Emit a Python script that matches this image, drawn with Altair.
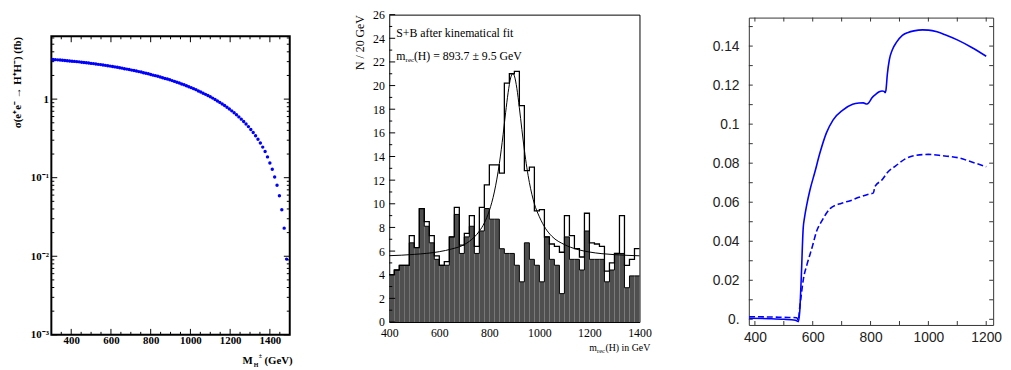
import altair as alt
import pandas as pd

SERIF = "Liberation Serif"
SANS = "Liberation Sans"
BLUE = "#0000ff"

# ---------------- panel 1 : cross section (log) ----------------
mh = [308, 320, 332, 344, 356, 368, 380, 392, 404, 416,
      428, 440, 452, 464, 476, 488, 500, 512, 524, 536,
      548, 560, 572, 584, 596, 608, 620, 632, 644, 656,
      668, 680, 692, 704, 716, 728, 740, 752, 764, 776,
      788, 800, 812, 824, 836, 848, 860, 872, 884, 896,
      908, 920, 932, 944, 956, 968, 980, 992, 1004, 1016,
      1028, 1040, 1052, 1064, 1076, 1088, 1100, 1112, 1124, 1136,
      1148, 1160, 1172, 1184, 1196, 1208, 1220, 1232, 1244, 1256,
      1268, 1280, 1292, 1304, 1316, 1328, 1340, 1352, 1364, 1376,
      1388, 1400, 1412, 1424, 1436, 1448, 1460, 1472, 1484]
xsec = [3.19, 3.18, 3.16, 3.14, 3.12, 3.10, 3.08, 3.06, 3.04, 3.02,
        3.00, 2.98, 2.95, 2.93, 2.90, 2.88, 2.85, 2.83, 2.80, 2.77,
        2.75, 2.72, 2.69, 2.66, 2.63, 2.60, 2.57, 2.54, 2.51, 2.48,
        2.44, 2.41, 2.38, 2.34, 2.31, 2.28, 2.24, 2.21, 2.17, 2.13,
        2.10, 2.06, 2.02, 1.99, 1.95, 1.91, 1.87, 1.83, 1.80, 1.76,
        1.72, 1.68, 1.64, 1.60, 1.56, 1.52, 1.48, 1.44, 1.40, 1.36,
        1.32, 1.27, 1.23, 1.19, 1.15, 1.11, 1.07, 1.03, 0.989, 0.948,
        0.908, 0.868, 0.828, 0.788, 0.749, 0.709, 0.671, 0.632, 0.594, 0.556,
        0.519, 0.483, 0.447, 0.411, 0.376, 0.342, 0.309, 0.277, 0.245, 0.215,
        0.184, 0.154, 0.128, 0.102, 0.080, 0.059, 0.039, 0.0228, 0.0092]
x1_major = [400, 600, 800, 1000, 1200, 1400]
x1_minor = [350, 450, 500, 550, 650, 700, 750, 850, 900, 950,
            1050, 1100, 1150, 1250, 1300, 1350, 1450]
y1_major = [0.001, 0.01, 0.1, 1]
y1_minor = [0.002, 0.003, 0.004, 0.005, 0.006, 0.007, 0.008, 0.009,
            0.02, 0.03, 0.04, 0.05, 0.06, 0.07, 0.08, 0.09,
            0.2, 0.3, 0.4, 0.5, 0.6, 0.7, 0.8, 0.9,
            2, 3, 4, 5, 6]

# ---------------- panel 2 : histogram ----------------
bin_lo = [400, 420, 440, 460, 480, 500, 520, 540, 560, 580,
          600, 620, 640, 660, 680, 700, 720, 740, 760, 780,
          800, 820, 840, 860, 880, 900, 920, 940, 960, 980,
          1000, 1020, 1040, 1060, 1080, 1100, 1120, 1140, 1160, 1180,
          1200, 1220, 1240, 1260, 1280, 1300, 1320, 1340, 1360, 1380]
bkg = [4.0, 4.4, 4.8, 4.8, 6.7, 6.3, 9.6, 8.1, 6.7, 5.3,
       4.8, 4.8, 7.2, 9.1, 5.8, 7.2, 8.1, 5.8, 7.7, 9.6,
       8.7, 8.7, 6.2, 5.8, 5.8, 4.8, 3.4, 6.7, 5.3, 4.8,
       3.4, 7.2, 5.3, 4.8, 2.4, 7.2, 5.3, 5.3, 4.4, 7.7,
       5.3, 5.3, 5.3, 3.4, 4.4, 5.8, 5.8, 2.9, 3.9, 3.9]
sig_bkg = [4.0, 4.4, 4.8, 4.8, 7.3, 6.3, 9.6, 8.5, 7.3, 5.6,
           4.8, 5.1, 7.2, 9.7, 6.5, 7.5, 9.0, 6.4, 9.7, 11.6,
           13.3, 13.3, 12.6, 20.2, 21.0, 21.2, 18.3, 12.8, 13.1, 9.4,
           9.5, 7.2, 6.6, 6.4, 5.9, 9.0, 7.3, 6.2, 5.5, 9.2,
           6.7, 6.6, 6.4, 4.3, 5.0, 5.8, 9.0, 4.8, 5.3, 6.2]
fit_m = [400, 500, 600, 650, 700, 740, 760, 780, 800, 820, 840, 855, 865, 875,
         885, 893.7, 900, 910, 920, 930, 940, 950, 960, 980, 1000, 1025, 1050,
         1100, 1150, 1200, 1250, 1300, 1350, 1400]
fit_n = [5.61, 5.72, 5.95, 6.18, 6.55, 7.19, 7.68, 8.38, 9.42, 11.0, 13.4, 15.85, 17.7, 19.4,
         20.64, 21.02, 20.82, 19.76, 18.12, 16.29, 14.55, 13.04, 11.8, 10.0, 8.9, 7.9, 7.25,
         6.55, 6.15, 5.92, 5.78, 5.70, 5.64, 5.60]
y2_major = [0, 2, 4, 6, 8, 10, 12, 14, 16, 18, 20, 22, 24, 26]
y2_minor = [1, 3, 5, 7, 9, 11, 13, 15, 17, 19, 21, 23, 25]
x2_major = [400, 600, 800, 1000, 1200, 1400]

# ---------------- panel 3 : two curves ----------------
s3_x = [380, 450, 500, 540, 550, 555, 560, 567, 572, 579, 590, 607, 625, 647, 670, 704,
        738, 760, 775, 787, 795, 805, 818, 830, 840, 847, 850, 853, 858, 865,
        875, 890, 910, 930, 950, 980, 1000, 1030, 1060, 1100, 1150, 1200]
s3_y = [0.0005, 0.0003, 0.0, -0.0005, -0.0012, 0.004, 0.02, 0.0466, 0.0525, 0.0584, 0.066,
        0.0752, 0.0853, 0.0954, 0.1021, 0.1072, 0.1102, 0.1108, 0.1109, 0.1103,
        0.1112, 0.1135, 0.1153, 0.1166, 0.1170, 0.1168, 0.1161, 0.1172, 0.1255, 0.133,
        0.138, 0.142, 0.1455, 0.147, 0.1478, 0.1483, 0.1482, 0.1473, 0.1457, 0.1432, 0.1393,
        0.1348]
d3_x = [380, 450, 500, 545, 550, 555, 560, 567, 580, 590, 600, 613, 630, 660, 700, 730, 760,
        790, 810, 815, 840, 860, 887, 920, 955, 1000, 1050, 1103, 1150, 1200]
d3_y = [0.0013, 0.0012, 0.001, 0.0008, -0.0006, 0.006, 0.012, 0.02, 0.028, 0.033, 0.038,
        0.045, 0.05, 0.0567, 0.0595, 0.0608, 0.0625, 0.064, 0.0648, 0.068, 0.0715, 0.0755,
        0.0786, 0.0822, 0.084, 0.0845, 0.0838, 0.0828, 0.0806, 0.0782]
y3_labels = [0, 0.02, 0.04, 0.06, 0.08, 0.1, 0.12, 0.14]
y3_ticks = [0, 0.01, 0.02, 0.03, 0.04, 0.05, 0.06, 0.07, 0.08, 0.09, 0.1, 0.11, 0.12,
            0.13, 0.14, 0.15]
x3_labels = [400, 600, 800, 1000, 1200]
x3_ticks = [400, 500, 600, 700, 800, 900, 1000, 1100, 1200]

ONE = pd.DataFrame({"k": [0]})


def yticks(vals, scale, side, size, width, color="black"):
    df = pd.DataFrame({"v": vals})
    if side == "left":
        xa, xb = 0, size
    else:
        xa, xb = width - size, width
    return alt.Chart(df).mark_rule(color=color, strokeWidth=1).encode(
        y=alt.Y("v:Q", scale=scale, axis=None), x=alt.value(xa), x2=alt.value(xb))


def xticks(vals, scale, side, size, height, color="black"):
    df = pd.DataFrame({"v": vals})
    if side == "bottom":
        ya, yb = height, height - size
    else:
        ya, yb = 0, size
    return alt.Chart(df).mark_rule(color=color, strokeWidth=1).encode(
        x=alt.X("v:Q", scale=scale, axis=None), y=alt.value(ya), y2=alt.value(yb))


def label(txt, x, y, size, font, weight="normal", align="left"):
    return alt.Chart(ONE).mark_text(
        text=txt, font=font, fontSize=size, fontWeight=weight, align=align,
        baseline="middle", color="black"
    ).encode(x=alt.value(x), y=alt.value(y))


def spacer(h):
    return alt.Chart(ONE).mark_text(text=" ", fontSize=1).encode(
        x=alt.value(5), y=alt.value(h / 2)
    ).properties(width=10, height=h, view=alt.ViewBackground(stroke="transparent"))


# ---------- build panel 1 ----------
W1, H1 = 242, 303
df1 = pd.DataFrame({"m": mh, "s": xsec})
sx1 = alt.Scale(domain=[300, 1500], nice=False, zero=False)
sy1 = alt.Scale(type="log", domain=[0.001, 6.3], nice=False)

pts = alt.Chart(df1).mark_circle(size=12, color=BLUE, opacity=1).encode(
    x=alt.X("m:Q", scale=sx1, axis=alt.Axis(
        orient="bottom", values=x1_major, ticks=False, tickSize=0, domain=False, grid=False,
        format="d", labelFont=SERIF, labelFontWeight="bold", labelFontSize=11,
        labelColor="black", labelPadding=0, labelFlush=False, labelOverlap=False, title=None)),
    y=alt.Y("s:Q", scale=sy1, axis=alt.Axis(
        orient="left", values=y1_major, ticks=False, tickSize=0, domain=False, grid=False,
        labelFont=SERIF, labelFontWeight="bold", labelFontSize=11, labelColor="black",
        labelPadding=3, labelOverlap=False,
        labelExpr="datum.value > 0.5 ? '1' : datum.value > 0.05 ? '10\u207b\u00b9' : datum.value > 0.005 ? '10\u207b\u00b2' : '10\u207b\u00b3'",
        title="\u03c3(e\u207ae\u207b \u2192 H\u207aH\u207b) (fb)", titleAnchor="end",
        titleFont=SERIF, titleFontWeight="bold", titleFontSize=11, titleColor="black",
        titlePadding=8)),
)
p1 = alt.layer(
    pts,
    yticks(y1_major, sy1, "left", 6, W1), yticks(y1_minor, sy1, "left", 3, W1),
    yticks(y1_major, sy1, "right", 6, W1), yticks(y1_minor, sy1, "right", 3, W1),
    xticks(x1_major, sx1, "bottom", 6, H1), xticks(x1_minor, sx1, "bottom", 3, H1),
    xticks(x1_major, sx1, "top", 6, H1), xticks(x1_minor, sx1, "top", 3, H1),
    label("M", 194, 329.3, 11, SERIF, "bold"),
    label("H", 205.5, 333.5, 6, SERIF, "bold"),
    label("\u00b1", 210.5, 324.5, 6, SERIF, "bold"),
    label("(GeV)", 245, 329.3, 11, SERIF, "bold", "right"),
).resolve_axis(x="independent", y="independent").properties(
    width=W1, height=H1,
    view=alt.ViewBackground(stroke="black", strokeWidth=2),
)

# ---------- build panel 2 ----------
W2, H2 = 254, 312
bin_hi = bin_lo[1:] + [1400]
df2 = pd.DataFrame({"lo": bin_lo, "hi": bin_hi, "b": bkg, "sb": sig_bkg})
df2s = pd.DataFrame({"x": bin_lo + [1400], "b": bkg + [bkg[-1]], "sb": sig_bkg + [sig_bkg[-1]]})
df2f = pd.DataFrame({"m": fit_m, "n": fit_n})
sx2 = alt.Scale(domain=[400, 1400], nice=False, zero=False)
sy2 = alt.Scale(domain=[0, 26], nice=False)

bars = alt.Chart(df2).mark_rect(fill="#4f4f4f").encode(
    x=alt.X("lo:Q", scale=sx2, axis=alt.Axis(
        orient="bottom", values=x2_major, ticks=False, tickSize=0, domain=False, grid=False,
        format="d", labelFont=SERIF, labelFontSize=12, labelColor="black", labelPadding=6,
        labelFlush=False, labelOverlap=False, title=None)),
    x2="hi:Q",
    y=alt.Y("b:Q", scale=sy2, axis=alt.Axis(
        orient="left", values=y2_major, ticks=False, tickSize=0, domain=False, grid=False,
        labelFont=SERIF, labelFontSize=12, labelColor="black", labelPadding=5,
        labelOverlap=False,
        title="N / 20 GeV", titleAnchor="end", titleFont=SERIF, titleFontWeight="normal",
        titleFontSize=12, titleColor="black", titlePadding=6)),
    y2=alt.datum(0),
)
bline = alt.Chart(df2s).mark_line(interpolate="step-after", color="black", strokeWidth=1).encode(
    x=alt.X("x:Q", scale=sx2, axis=None), y=alt.Y("b:Q", scale=sy2, axis=None))
sbline = alt.Chart(df2s).mark_line(interpolate="step-after", color="black", strokeWidth=1.3).encode(
    x=alt.X("x:Q", scale=sx2, axis=None), y=alt.Y("sb:Q", scale=sy2, axis=None))
fitline = alt.Chart(df2f).mark_line(interpolate="monotone", color="black", strokeWidth=1).encode(
    x=alt.X("m:Q", scale=sx2, axis=None), y=alt.Y("n:Q", scale=sy2, axis=None))

p2 = alt.layer(
    bars, bline, sbline, fitline,
    yticks(y2_major, sy2, "left", 6, W2), yticks(y2_minor, sy2, "left", 3, W2),
    label("S+B after kinematical fit", 7, 19, 12, SERIF),
    label("m", 7, 42, 12, SERIF),
    label("rec", 16.6, 46, 7, SERIF),
    label("(H) = 893.7 \u00b1 9.5 GeV", 25, 42, 12, SERIF),
    label("m", 203, 338, 10, SERIF),
    label("rec", 211, 341.5, 6.5, SERIF),
    label("(H) in GeV", 265, 338, 10, SERIF, "normal", "right"),
).resolve_axis(x="independent", y="independent").properties(
    width=W2, height=H2,
    view=alt.ViewBackground(stroke="black", strokeWidth=1),
)

# ---------- build panel 3 ----------
W3, H3 = 248, 312
df3s = pd.DataFrame({"m": s3_x, "v": s3_y})
df3d = pd.DataFrame({"m": d3_x, "v": d3_y})
sx3 = alt.Scale(domain=[379, 1224], nice=False, zero=False)
sy3 = alt.Scale(domain=[-0.0029, 0.1546], nice=False, zero=False)

solid = alt.Chart(df3s).mark_line(color=BLUE, strokeWidth=1.6, interpolate="monotone").encode(
    x=alt.X("m:Q", scale=sx3, axis=alt.Axis(
        orient="bottom", values=x3_labels, ticks=False, tickSize=0, domain=False, grid=False,
        format="d", labelFont=SANS, labelFontSize=14, labelColor="#222222", labelPadding=6,
        labelFlush=False, labelOverlap=False, title=None)),
    y=alt.Y("v:Q", scale=sy3, axis=alt.Axis(
        orient="left", values=y3_labels, ticks=False, tickSize=0, domain=False, grid=False,
        labelFont=SANS, labelFontSize=14, labelColor="#222222", labelPadding=10,
        labelOverlap=False, labelExpr="datum.value < 0.001 ? '0.\u2002' : format(datum.value, '~g')",
        title=None)),
)
dashed = alt.Chart(df3d).mark_line(color=BLUE, strokeWidth=1.6, strokeDash=[6, 3],
                                   interpolate="monotone").encode(
    x=alt.X("m:Q", scale=sx3, axis=None), y=alt.Y("v:Q", scale=sy3, axis=None))

TC = "#333333"
p3 = alt.layer(
    solid, dashed,
    yticks(y3_ticks, sy3, "left", 4, W3, TC), yticks(y3_ticks, sy3, "right", 4, W3, TC),
    xticks(x3_ticks, sx3, "bottom", 4, H3, TC), xticks(x3_ticks, sx3, "top", 4, H3, TC),
).resolve_axis(x="independent", y="independent").properties(
    width=W3, height=H3,
    view=alt.ViewBackground(stroke=TC, strokeWidth=1),
)

col1 = alt.vconcat(spacer(19), p1, spacing=0)
col3 = alt.vconcat(spacer(1), p3, spacing=0)

chart = alt.hconcat(col1, p2, col3, spacing=60).properties(
    padding={"left": 2, "top": -3, "right": 0, "bottom": 0}
).configure(background="white")

chart.save("out.html", embed_options={"renderer": "svg", "actions": False})
